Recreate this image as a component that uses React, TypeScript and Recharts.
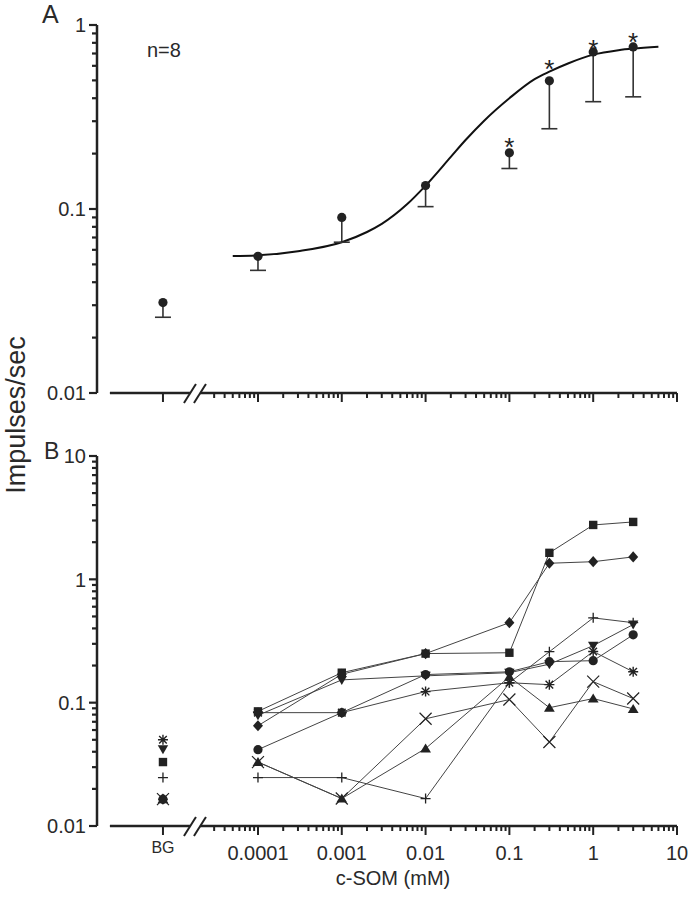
import React from "react";
import {
  ComposedChart,
  Scatter,
  Line,
  XAxis,
  YAxis,
  ReferenceLine,
  ReferenceDot,
} from "recharts";

const FONT = '"Liberation Sans", Arial, Helvetica, sans-serif';
const INK = "#222";
const TEXT = "#2a2a2a";

// x axis: log concentration, BG sits on the broken-off left part
const BG_POS = 7.35e-6;
const BREAK_POS = 1.77e-5;
const X_MIN = 1.2e-6;
const X_LINE_START = 1.71e-6;
const X_MAX = 10;
const concentrations = [BG_POS, 1e-4, 1e-3, 1e-2, 0.1, 0.3, 1, 3];
const xMajor = [BG_POS, 1e-4, 1e-3, 1e-2, 0.1, 1, 10];
const xLabels = ["BG", "0.0001", "0.001", "0.01", "0.1", "1", "10"];

// panel A: mean rate, lower SEM, and where the significance stars sit
const meanRate = [0.031, 0.0553, 0.09, 0.134, 0.202, 0.497, 0.714, 0.76];
const lowerRate = [0.0258, 0.0464, 0.066, 0.103, 0.166, 0.273, 0.383, 0.407];
const sigMarkRate = [null, null, null, null, 0.233, 0.62, 0.8, 0.872];

// fitted curve
const fitConc = [5e-5, 1e-4, 3e-4, 1e-3, 2e-3, 3e-3, 6e-3, 0.01, 0.02, 0.03, 0.05, 0.1, 0.2, 0.3, 0.5, 1, 2, 3, 6];
const fitRate = [0.0555, 0.056, 0.059, 0.066, 0.075, 0.083, 0.106, 0.134, 0.192, 0.237, 0.302, 0.4, 0.508, 0.558, 0.618, 0.69, 0.73, 0.745, 0.762];

// panel B: individual cells (BG, 0.0001 ... 3 mM)
const squareRate = [0.033, 0.085, 0.175, 0.25, 0.254, 1.64, 2.76, 2.92];
const diamondRate = [0.0165, 0.065, 0.17, 0.25, 0.445, 1.35, 1.39, 1.52];
const invTriRate = [0.042, 0.079, 0.153, 0.165, 0.175, 0.205, 0.29, 0.43];
const circleRate = [0.0165, 0.0416, 0.083, 0.169, 0.178, 0.215, 0.219, 0.355];
const plusRate = [0.0247, 0.0247, 0.0247, 0.0167, 0.145, 0.259, 0.487, 0.445];
const asteriskRate = [0.05, 0.083, 0.083, 0.123, 0.145, 0.14, 0.26, 0.178];
const crossRate = [0.0165, 0.033, 0.0167, 0.074, 0.106, 0.048, 0.148, 0.108];
const triRate = [0.0165, 0.033, 0.0167, 0.0425, 0.162, 0.091, 0.108, 0.089];

const yMajorA = [0.01, 0.1, 1];
const yMajorB = [0.01, 0.1, 1, 10];

function minorTicks(decades: number[], from = 2) {
  const out: number[] = [];
  decades.forEach((d) => {
    for (let k = from; k <= 9; k++) out.push(k * d);
  });
  return out;
}

const xTicks = [
  BG_POS,
  ...minorTicks([1e-5], 3),
  ...minorTicks([1e-4, 1e-3, 1e-2, 0.1, 1]),
  ...xMajor.slice(1),
];
const yTicksA = [...yMajorA, ...minorTicks([0.01, 0.1])];
const yTicksB = [...yMajorB, ...minorTicks([0.01, 0.1, 1])];

const renderXTick = (showLabels: boolean) => (props: any) => {
  const { x, y, payload } = props;
  const idx = xMajor.indexOf(payload.value);
  const major = idx >= 0;
  const isBG = idx === 0;
  return (
    <g>
      <line x1={x} x2={x} y1={y} y2={y + (major ? 9 : 5)} stroke={INK} strokeWidth={2} />
      {showLabels && major && (
        <text
          x={x}
          y={y + (isBG ? 27 : 34)}
          textAnchor="middle"
          fontSize={isBG ? 16 : 20}
          fontFamily={FONT}
          fill={TEXT}
        >
          {xLabels[idx]}
        </text>
      )}
    </g>
  );
};

const renderYTick = (majors: number[]) => (props: any) => {
  const { x, y, payload } = props;
  const major = majors.includes(payload.value);
  return (
    <g>
      <line x1={x} x2={x - (major ? 8 : 5)} y1={y} y2={y} stroke={INK} strokeWidth={2.2} />
      {major && (
        <text x={x - 11} y={y} dy="0.36em" textAnchor="end" fontSize={20} fontFamily={FONT} fill={TEXT}>
          {String(payload.value)}
        </text>
      )}
    </g>
  );
};

const AxisBreak = (p: any) => (
  <g>
    <rect x={p.cx - 5} y={p.cy - 3} width={10} height={6} fill="#fff" />
    <line x1={p.cx - 11} y1={p.cy + 10} x2={p.cx + 1} y2={p.cy - 9} stroke={INK} strokeWidth={2} />
    <line x1={p.cx - 1} y1={p.cy + 10} x2={p.cx + 11} y2={p.cy - 9} stroke={INK} strokeWidth={2} />
  </g>
);

const MeanDot = (p: any) => <circle cx={p.cx} cy={p.cy} r={4.6} fill={INK} />;

const SigStar = (p: any) => (
  <text x={p.cx} y={p.cy + 15} textAnchor="middle" fontSize={26} fontFamily={FONT} fill={INK}>
    *
  </text>
);

const Cap = (p: any) => (
  <line x1={p.cx - 8} x2={p.cx + 8} y1={p.cy} y2={p.cy} stroke="#333" strokeWidth={1.6} />
);

const Square = (p: any) => <rect x={p.cx - 4.2} y={p.cy - 4.2} width={8.4} height={8.4} fill={INK} />;
const Diamond = (p: any) => (
  <polygon
    points={`${p.cx},${p.cy - 5.6} ${p.cx + 5},${p.cy} ${p.cx},${p.cy + 5.6} ${p.cx - 5},${p.cy}`}
    fill={INK}
  />
);
const InvTri = (p: any) => (
  <polygon points={`${p.cx - 5.2},${p.cy - 4} ${p.cx + 5.2},${p.cy - 4} ${p.cx},${p.cy + 5}`} fill={INK} />
);
const Tri = (p: any) => (
  <polygon points={`${p.cx - 5.4},${p.cy + 4} ${p.cx + 5.4},${p.cy + 4} ${p.cx},${p.cy - 5}`} fill={INK} />
);
const Dot = (p: any) => <circle cx={p.cx} cy={p.cy} r={4.6} fill={INK} />;
const Plus = (p: any) => (
  <path d={`M${p.cx - 5},${p.cy}H${p.cx + 5}M${p.cx},${p.cy - 5}V${p.cy + 5}`} stroke={INK} strokeWidth={1.3} />
);
const Cross = (p: any) => (
  <path
    d={`M${p.cx - 6},${p.cy - 6}L${p.cx + 6},${p.cy + 6}M${p.cx - 6},${p.cy + 6}L${p.cx + 6},${p.cy - 6}`}
    stroke={INK}
    strokeWidth={1.2}
  />
);
const Asterisk = (p: any) => (
  <path
    d={`M${p.cx - 5},${p.cy}H${p.cx + 5}M${p.cx},${p.cy - 5}V${p.cy + 5}M${p.cx - 3.8},${p.cy - 3.8}L${p.cx + 3.8},${p.cy + 3.8}M${p.cx - 3.8},${p.cy + 3.8}L${p.cx + 3.8},${p.cy - 3.8}`}
    stroke={INK}
    strokeWidth={1.4}
  />
);

const seriesB = [
  { rates: squareRate, shape: Square },
  { rates: diamondRate, shape: Diamond },
  { rates: invTriRate, shape: InvTri },
  { rates: circleRate, shape: Dot },
  { rates: plusRate, shape: Plus },
  { rates: asteriskRate, shape: Asterisk },
  { rates: crossRate, shape: Cross },
  { rates: triRate, shape: Tri },
];

function axes(yTicks: number[], yMajor: number[], yMax: number, labels: boolean, xHeight: number) {
  return [
    <XAxis
      key="x"
      xAxisId={0}
      dataKey="x"
      type="number"
      scale="log"
      domain={[X_MIN, X_MAX]}
      ticks={xTicks}
      interval={0}
      axisLine={false}
      tickLine={false}
      tickSize={0}
      tickMargin={0}
      tick={renderXTick(labels)}
      height={xHeight}
      allowDataOverflow
    />,
    <YAxis
      key="y"
      yAxisId={0}
      dataKey="y"
      type="number"
      scale="log"
      domain={[0.01, yMax]}
      ticks={yTicks}
      interval={0}
      width={97}
      axisLine={{ stroke: INK, strokeWidth: 2.5 }}
      tickLine={false}
      tickSize={0}
      tickMargin={0}
      tick={renderYTick(yMajor)}
      allowDataOverflow
    />,
    <ReferenceLine
      key="xline"
      segment={[
        { x: X_LINE_START, y: 0.01 },
        { x: X_MAX, y: 0.01 },
      ]}
      stroke={INK}
      strokeWidth={2.5}
      ifOverflow="visible"
    />,
    <ReferenceDot key="brk" x={BREAK_POS} y={0.01} ifOverflow="visible" shape={AxisBreak} />,
  ];
}

function PanelA() {
  const means = concentrations.map((x, i) => ({ x, y: meanRate[i] }));
  const lows = concentrations.map((x, i) => ({ x, y: lowerRate[i] }));
  const stars = concentrations
    .map((x, i) => ({ x, y: sigMarkRate[i] }))
    .filter((d) => d.y !== null);
  const fit = fitConc.map((x, i) => ({ x, y: fitRate[i] }));
  return (
    <ComposedChart width={691} height={423} margin={{ top: 25, right: 14, bottom: 0, left: 0 }}>
      {axes(yTicksA, yMajorA, 1, false, 30)}
      {concentrations.map((x, i) => (
        <ReferenceLine
          key={"stem" + i}
          segment={[
            { x, y: lowerRate[i] },
            { x, y: meanRate[i] },
          ]}
          stroke="#333"
          strokeWidth={1.6}
        />
      ))}
      <Line
        data={fit}
        dataKey="y"
        type="monotone"
        dot={false}
        stroke="#111"
        strokeWidth={2}
        isAnimationActive={false}
      />
      <Scatter data={lows} shape={Cap} isAnimationActive={false} />
      <Scatter data={means} shape={MeanDot} isAnimationActive={false} />
      <Scatter data={stars} shape={SigStar} isAnimationActive={false} />
    </ComposedChart>
  );
}

function PanelB() {
  return (
    <ComposedChart width={691} height={436} margin={{ top: 26, right: 14, bottom: 0, left: 0 }}>
      {axes(yTicksB, yMajorB, 10, true, 40)}
      {seriesB.map((s, k) => (
        <Scatter
          key={"s" + k}
          data={s.rates.slice(1).map((y, i) => ({ x: concentrations[i + 1], y }))}
          line={{ stroke: "#444", strokeWidth: 1 }}
          lineType="joint"
          shape={s.shape}
          isAnimationActive={false}
        />
      ))}
      {seriesB.map((s, k) => (
        <Scatter
          key={"bg" + k}
          data={[{ x: concentrations[0], y: s.rates[0] }]}
          shape={s.shape}
          isAnimationActive={false}
        />
      ))}
    </ComposedChart>
  );
}

export default function App() {
  return (
    <div style={{ position: "absolute", left: 0, top: 0, width: 691, height: 899, background: "#fff" }}>
      <div style={{ position: "absolute", left: 0, top: 0 }}>
        <PanelA />
      </div>
      <div style={{ position: "absolute", left: 0, top: 430 }}>
        <PanelB />
      </div>
      <svg
        width={691}
        height={899}
        style={{ position: "absolute", left: 0, top: 0, pointerEvents: "none" }}
        fontFamily={FONT}
        fill={TEXT}
      >
        <text x={42} y={23} fontSize={25}>A</text>
        <text x={44} y={459} fontSize={23}>B</text>
        <text x={147} y={57} fontSize={20}>n=8</text>
        <text x={25} y={415} fontSize={27} textAnchor="middle" transform="rotate(-90 25 415)">
          Impulses/sec
        </text>
        <text x={393} y={885} fontSize={20} textAnchor="middle">c-SOM (mM)</text>
      </svg>
    </div>
  );
}
